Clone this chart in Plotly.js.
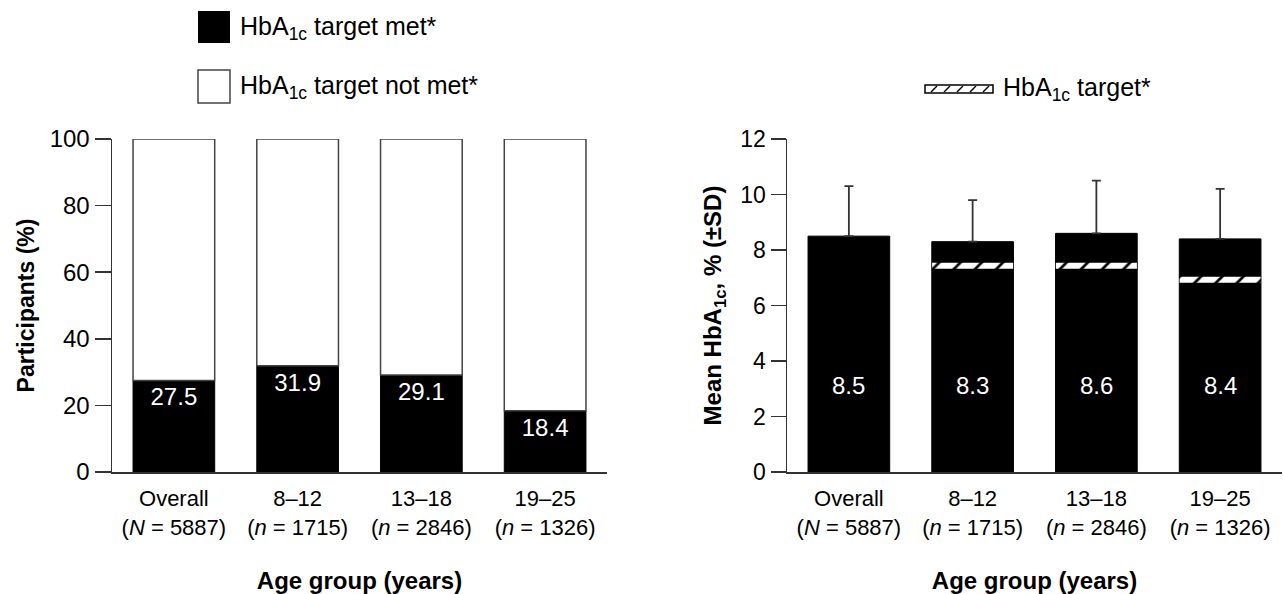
<!DOCTYPE html>
<html>
<head>
<meta charset="utf-8">
<script src="https://cdn.plot.ly/plotly-3.0.1.min.js"></script>
<style>html,body{margin:0;padding:0;background:#fff;}#chart{width:1283px;height:594px;}</style>
</head>
<body>
<div id="chart"></div>
<script>
// ---- data ----
const categories = ["Overall", "8–12", "13–18", "19–25"];
const groupN = ["(<i>N</i> = 5887)", "(<i>n</i> = 1715)", "(<i>n</i> = 2846)", "(<i>n</i> = 1326)"];
const targetMet = [27.5, 31.9, 29.1, 18.4];
const targetNotMet = [72.5, 68.1, 70.9, 81.6];
const meanHbA1c = [8.5, 8.3, 8.6, 8.4];
const sdHbA1c = [1.8, 1.5, 1.9, 1.8];
const hbA1cTarget = [null, 7.5, 7.5, 7.0];
const leftTicks = [0, 20, 40, 60, 80, 100];
const rightTicks = [0, 2, 4, 6, 8, 10, 12];

// ---- helpers ----
const W = 1283, H = 594;
const px = x => x / W;
const py = y => 1 - y / H;
const FONT = "Liberation Sans, Arial, Helvetica, sans-serif";
const AX = "#333";
const tickText = categories.map((c, i) => c + "<br>" + groupN[i]);

const bandCats = [], bandBase = [];
hbA1cTarget.forEach((t, i) => { if (t !== null) { bandCats.push(categories[i]); bandBase.push(t - 0.18); } });
const bandHeight = bandCats.map(() => 0.22);

const traces = [
  { type: "bar", x: categories, y: targetMet, xaxis: "x", yaxis: "y", width: 0.66,
    marker: { color: "#000", line: { color: "#000", width: 1 } },
    text: targetMet.map(v => v.toFixed(1)), textposition: "inside", insidetextanchor: "end",
    textfont: { color: "#fff", size: 24, family: FONT }, constraintext: "none", hoverinfo: "skip" },
  { type: "bar", x: categories, y: targetNotMet, base: targetMet, xaxis: "x", yaxis: "y", width: 0.66,
    marker: { color: "#fff", line: { color: "#444", width: 1.5 } }, hoverinfo: "skip" },
  { type: "bar", x: categories, y: meanHbA1c, xaxis: "x2", yaxis: "y2", width: 0.66,
    marker: { color: "#000", line: { color: "#000", width: 1 } },
    error_y: { type: "data", symmetric: false, array: sdHbA1c, arrayminus: sdHbA1c.map(() => 0),
               color: AX, thickness: 1.8, width: 4.5 }, hoverinfo: "skip" },
  { type: "bar", x: bandCats, y: bandHeight, base: bandBase, xaxis: "x2", yaxis: "y2", width: 0.655,
    marker: { color: "#fff", line: { width: 0 },
              pattern: { shape: "/", fgcolor: "#000", bgcolor: "#fff", size: 15, solidity: 0.18 } },
    hoverinfo: "skip" }
];

const xCommon = {
  type: "category", range: [-0.5, 3.5], showline: true, linecolor: AX, linewidth: 1.5,
  ticks: "", showgrid: false, zeroline: false, automargin: false, ticklabelstandoff: 6,
  tickvals: categories, ticktext: tickText, tickfont: { size: 22, family: FONT, color: "#000" },
  title: { text: "<b>Age group (years)</b>", font: { size: 24, family: FONT, color: "#000" }, standoff: 34 }
};
const yCommon = {
  showline: true, linecolor: AX, linewidth: 1.5, ticks: "outside", tickwidth: 1.5, tickcolor: AX,
  showgrid: false, zeroline: false, automargin: false
};

const annotations = [
  { xref: "paper", yref: "paper", x: px(238), y: py(28), xanchor: "left", yanchor: "middle", showarrow: false,
    text: "HbA<sub>1c</sub> target met*", font: { size: 25, family: FONT, color: "#000" } },
  { xref: "paper", yref: "paper", x: px(238), y: py(87), xanchor: "left", yanchor: "middle", showarrow: false,
    text: "HbA<sub>1c</sub> target not met*", font: { size: 25, family: FONT, color: "#000" } },
  { xref: "paper", yref: "paper", x: px(1001), y: py(89), xanchor: "left", yanchor: "middle", showarrow: false,
    text: "HbA<sub>1c</sub> target*", font: { size: 25, family: FONT, color: "#000" } }
];
categories.forEach((c, i) => annotations.push({
  xref: "x2", yref: "y2", x: c, y: 3.1, showarrow: false, text: meanHbA1c[i].toFixed(1),
  font: { size: 24, family: FONT, color: "#fff" }
}));

const shapes = [
  { type: "rect", xref: "paper", yref: "paper", x0: px(198), x1: px(230), y0: py(43), y1: py(11),
    fillcolor: "#000", line: { width: 0 } },
  { type: "rect", xref: "paper", yref: "paper", x0: px(198), x1: px(230), y0: py(103), y1: py(70),
    fillcolor: "#fff", line: { color: "#444", width: 1.5 } },
  { type: "rect", xref: "paper", yref: "paper", x0: px(925), x1: px(993), y0: py(93), y1: py(85),
    fillcolor: "#fff", line: { color: "#000", width: 1.5 } }
];
[931, 944, 957, 970, 983].forEach(x => shapes.push({
  type: "line", xref: "paper", yref: "paper", x0: px(x), y0: py(92), x1: px(x + 6), y1: py(86),
  line: { color: "#000", width: 1.5 }
}));

const layout = {
  width: W, height: H, margin: { l: 0, r: 0, t: 0, b: 0 },
  paper_bgcolor: "#fff", plot_bgcolor: "#fff", showlegend: false, barmode: "overlay",
  font: { family: FONT, color: "#000" },
  xaxis: Object.assign({}, xCommon, { domain: [px(112), px(607)], anchor: "y" }),
  xaxis2: Object.assign({}, xCommon, { domain: [px(787), px(1282)], anchor: "y2" }),
  yaxis: Object.assign({}, yCommon, { domain: [py(472), py(139)], anchor: "x", range: [0, 100],
    tickvals: leftTicks, ticklen: 16, tickfont: { size: 24, family: FONT, color: "#000" },
    title: { text: "<b>Participants (%)</b>", font: { size: 23, family: FONT, color: "#000" }, standoff: 8 } }),
  yaxis2: Object.assign({}, yCommon, { domain: [py(472), py(139)], anchor: "x2", range: [0, 12],
    tickvals: rightTicks, ticklen: 15, tickfont: { size: 23, family: FONT, color: "#000" },
    title: { text: "<b>Mean HbA<sub>1c</sub>, % (±SD)</b>", font: { size: 24, family: FONT, color: "#000" }, standoff: 12 } }),
  annotations: annotations, shapes: shapes
};

Plotly.newPlot("chart", traces, layout, { displayModeBar: false, staticPlot: true });
</script>
</body>
</html>
